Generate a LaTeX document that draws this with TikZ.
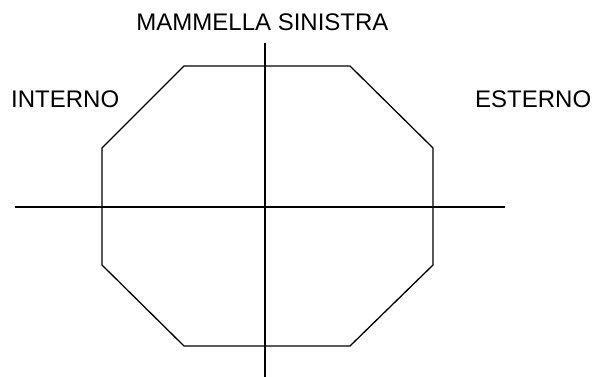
\documentclass[tikz,border=0pt]{standalone}
\usepackage{fontspec}
\setmainfont{Liberation Sans}
\begin{document}
\begin{tikzpicture}[x=1pt,y=-1pt,
  lbl/.style={inner sep=0pt,font=\fontsize{24}{28}\selectfont},
  shape line/.style={line width=1.3pt,black}]
\useasboundingbox (0,0) rectangle (598,377);
\node[lbl,anchor=base] (title) at (262.5,31) {MAMMELLA SINISTRA};
\node[lbl,anchor=base west] (interno) at (11,108) {INTERNO};
\node[lbl,anchor=base west] (esterno) at (475,108) {ESTERNO};
\coordinate (v1) at (184,66);
\coordinate (v2) at (350,66);
\coordinate (v3) at (433,148);
\coordinate (v4) at (433,265);
\coordinate (v5) at (350,346);
\coordinate (v6) at (184,346);
\coordinate (v7) at (102,265);
\coordinate (v8) at (102,148);
\draw[shape line] (v1) -- (v2) -- (v3) -- (v4) -- (v5) -- (v6) -- (v7) -- (v8) -- cycle;
\coordinate (vt) at (265,43);
\coordinate (vb) at (265,377);
\coordinate (hl) at (15,207);
\coordinate (hr) at (505,207);
\draw[shape line] (vt) -- (vb);
\draw[shape line] (hl) -- (hr);
\end{tikzpicture}
\end{document}
